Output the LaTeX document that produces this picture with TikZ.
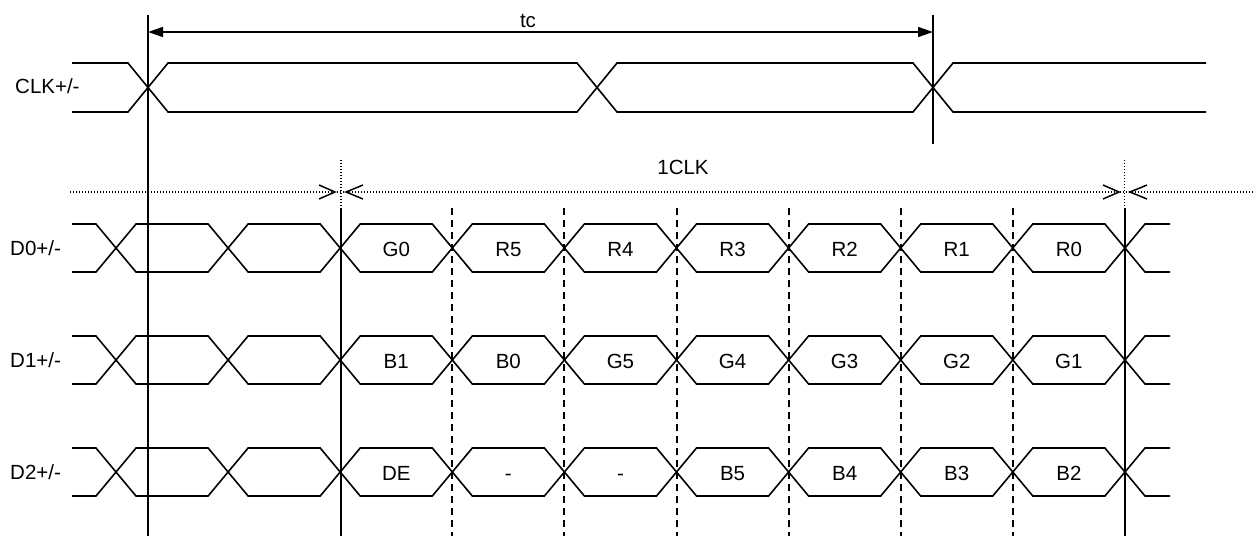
\documentclass[tikz,border=0pt]{standalone}
\usepackage{fontspec}
\setmainfont{Liberation Sans}
\usetikzlibrary{arrows.meta}
\begin{document}
\begin{tikzpicture}[x=1pt,y=-1pt,
  sig/.style={line width=1.6pt, line join=miter},
  guide/.style={line width=1.1pt, dash pattern=on 1.2pt off 1.8pt},
  dashguide/.style={line width=2pt, dash pattern=on 7pt off 5pt},
  chev/.style={line width=1.5pt},
  lbl/.style={font=\fontsize{20.5}{24}\selectfont, inner sep=0pt, anchor=base},
  dimarrow/.style={<->, >={Triangle[length=15pt,width=10pt]}}]
\useasboundingbox (0,0) rectangle (1255,539);

% ---- CLK row ----
\node[lbl, anchor=base west] (clklbl) at (15,93) {CLK+/-};
\draw[sig] (72,63) -- (128,63) -- (148,87.5) -- (128,112) -- (72,112);
\draw[sig] (148,87.5) -- (168,63) -- (577,63) -- (597,87.5) -- (577,112) -- (168,112) -- cycle;
\draw[sig] (597,87.5) -- (617,63) -- (913,63) -- (933,87.5) -- (913,112) -- (617,112) -- cycle;
\draw[sig] (1206,63) -- (953,63) -- (933,87.5) -- (953,112) -- (1206,112);

% clock period lines and tc arrow
\coordinate (vL1) at (148,15);
\coordinate (vL2) at (148,536);
\coordinate (vR1) at (933,15);
\coordinate (vR2) at (933,144);
\draw[sig] (vL1) -- (vL2);
\draw[sig] (vR1) -- (vR2);
\coordinate (tcL) at (148,32);
\coordinate (tcR) at (933,32);
\draw[sig, dimarrow] (tcL) -- (tcR);
\node[lbl] (tc) at (528,27) {tc};

% ---- 1CLK dimension ----
\node[lbl] (oneclk) at (683,174) {1CLK};
\coordinate (hA) at (70,192);
\coordinate (hB) at (1255,192);
\draw[guide] (hA) -- (hB);
\draw[guide] (341,160) -- (341,208);
\draw[guide] (1124.5,160) -- (1124.5,208);
\draw[chev] (319,185) -- (335,192) -- (319,199);
\draw[chev] (363,185) -- (346,192) -- (363,199);
\draw[chev] (1103,185) -- (1119,192) -- (1103,199);
\draw[chev] (1147,185) -- (1130,192) -- (1147,199);

\draw[sig] (341,208) -- (341,536);
\draw[sig] (1125,208) -- (1125,536);
\foreach \i in {3,...,8}{
  \pgfmathsetmacro\xd{116+112.1*\i}
  \draw[dashguide] (\xd,208) -- (\xd,536);
}

% ---- data rows ----
\foreach \c/\name/\la/\lb/\lc/\ld/\le/\lf/\lg in
  {248/D0/G0/R5/R4/R3/R2/R1/R0,
   360/D1/B1/B0/G5/G4/G3/G2/G1,
   472/D2/DE/-/-/B5/B4/B3/B2}{
  \node[lbl, anchor=base west] (\name) at (10,\c+7) {\name+/-};
  \draw[sig] (72,\c-24) -- (96,\c-24) -- (116,\c) -- (96,\c+24) -- (72,\c+24);
  \draw[sig] (1170,\c-24) -- (1145,\c-24) -- (1125,\c) -- (1145,\c+24) -- (1170,\c+24);
  \foreach \i/\t in {0/{},1/{},2/\la,3/\lb,4/\lc,5/\ld,6/\le,7/\lf,8/\lg}{
    \pgfmathsetmacro\xa{116+112.1*\i}
    \pgfmathsetmacro\xb{116+112.1*(\i+1)}
    \draw[sig] (\xa,\c) -- (\xa+20,\c-24) -- (\xb-20,\c-24) -- (\xb,\c)
      -- (\xb-20,\c+24) -- (\xa+20,\c+24) -- cycle;
    \node[lbl] (\name w\i) at ({(\xa+\xb)/2},\c+8) {\t};
  }
}
\end{tikzpicture}
\end{document}
